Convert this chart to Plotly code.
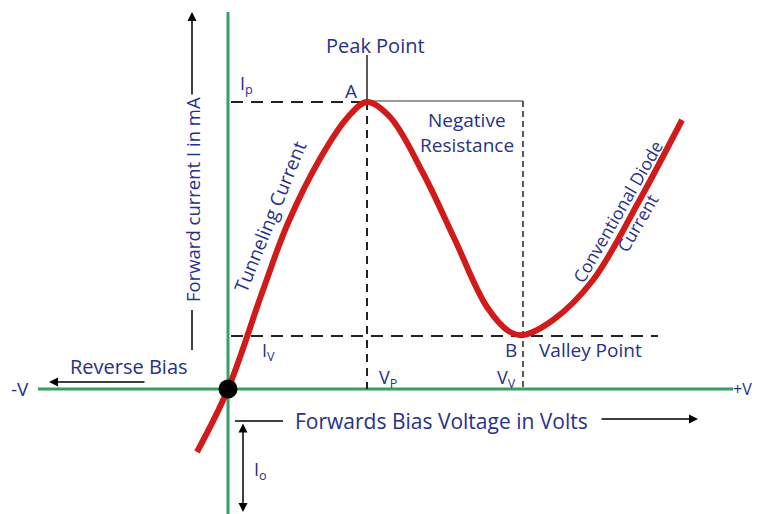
import plotly.graph_objects as go

# ---- data (arbitrary units: volts / mA) ----
bias_v = [-0.31, 0.0, 0.35, 0.60, 0.93, 1.20, 1.39,
          1.62, 1.95, 2.27, 2.59, 2.82, 2.95,
          3.25, 3.65, 4.10, 4.54]
current_ma = [-0.63, 0.0, 0.99, 1.66, 2.32, 2.72, 2.87,
              2.72, 2.16, 1.49, 0.82, 0.57, 0.54,
              0.69, 1.09, 1.86, 2.69]
peak_v, peak_i = 1.39, 2.87
valley_v, valley_i = 2.95, 0.53
axis_x_extent = [-1.90, 5.05]
axis_y_extent = [-1.25, 3.77]

TXT = "#27308a"
FONT = "Open Sans"
GREEN = "#35a062"
RED = "#d11a1a"

def P(px, py):
    return ((px - 228) / 100.0, (389 - py) / 100.0)

fig = go.Figure()

# green axes
fig.add_trace(go.Scatter(x=axis_x_extent, y=[0, 0], mode="lines",
                         line=dict(color=GREEN, width=3), hoverinfo="skip"))
fig.add_trace(go.Scatter(x=[0, 0], y=axis_y_extent, mode="lines",
                         line=dict(color=GREEN, width=3), hoverinfo="skip"))

# reference lines
fig.add_trace(go.Scatter(x=[0.03, peak_v], y=[peak_i, peak_i], mode="lines",
                         line=dict(color="#222", width=2, dash="12px,8px"), hoverinfo="skip"))
fig.add_trace(go.Scatter(x=[peak_v, valley_v], y=[peak_i + 0.01, peak_i + 0.01], mode="lines",
                         line=dict(color="#777", width=1.5), hoverinfo="skip"))
fig.add_trace(go.Scatter(x=[peak_v, peak_v], y=[peak_i, 0], mode="lines",
                         line=dict(color="#222", width=2, dash="8px,6px"), hoverinfo="skip"))
fig.add_trace(go.Scatter(x=[peak_v, peak_v], y=[3.34, peak_i], mode="lines",
                         line=dict(color="#222", width=1.5), hoverinfo="skip"))
fig.add_trace(go.Scatter(x=[valley_v, valley_v], y=[peak_i + 0.01, 0], mode="lines",
                         line=dict(color="#222", width=1.5, dash="6px,4px"), hoverinfo="skip"))
fig.add_trace(go.Scatter(x=[0.03, 4.30], y=[valley_i, valley_i], mode="lines",
                         line=dict(color="#222", width=2, dash="12px,8px"), hoverinfo="skip"))

# characteristic curve
fig.add_trace(go.Scatter(x=bias_v, y=current_ma, mode="lines",
                         line=dict(color=RED, width=6, shape="spline", smoothing=1.0),
                         hoverinfo="skip"))
# origin dot
fig.add_trace(go.Scatter(x=[0], y=[0], mode="markers",
                         marker=dict(color="black", size=19), hoverinfo="skip"))

ann = []

def text(px, py, s, size=20, angle=0, **kw):
    x, y = P(px, py)
    ann.append(dict(x=x, y=y, xref="x", yref="y", text=s, showarrow=False,
                    textangle=angle, font=dict(family=FONT, size=size, color=TXT), **kw))

def arrow(p_head, p_tail, side="end"):
    hx, hy = P(*p_head)
    tx, ty = P(*p_tail)
    ann.append(dict(x=hx, y=hy, ax=tx, ay=ty, xref="x", yref="y", axref="x", ayref="y",
                    text="", showarrow=True, arrowhead=2, arrowsize=1.2,
                    arrowwidth=1.5, arrowcolor="black", arrowside=side,
                    startarrowhead=2, startarrowsize=1.2))

text(375, 45, "Peak Point")
text(246, 84, "I<sub>p</sub>", size=18)
text(351, 91, "A", size=19)
text(467, 120, "Negative", size=19)
text(467, 145, "Resistance", size=19)
text(268, 351, "I<sub>V</sub>", size=18)
text(388, 378, "V<sub>P</sub>", size=18)
text(506, 378, "V<sub>V</sub>", size=18)
text(511, 350, "B", size=19)
text(590, 350, "Valley Point", size=19)
text(129, 366, "Reverse Bias")
text(20, 389, "-V", size=19)
text(754, 389, "+V", size=16, xanchor="right")
text(441, 421, "Forwards Bias Voltage in Volts", size=21)
text(260, 470, "I<sub>o</sub>", size=18)
text(192, 200, "Forward current I in mA", size=18.5, angle=-90)
text(270, 217, "Tunneling Current", size=19, angle=-68)
text(627, 217, "Conventional Diode<br>Current", size=17.5, angle=-60)

# arrows
arrow((192, 12), (192, 96))
arrow((49, 382), (146, 382))
arrow((698, 419), (600, 419))
arrow((243, 512), (243, 422), side="end+start")

fig.update_layout(annotations=ann)

# plain connector lines
fig.add_trace(go.Scatter(x=[P(192, 310)[0], P(192, 350)[0]], y=[P(192, 310)[1], P(192, 350)[1]],
                         mode="lines", line=dict(color="black", width=1.5), hoverinfo="skip"))
fig.add_trace(go.Scatter(x=[P(235, 421)[0], P(283, 421)[0]], y=[P(235, 421)[1], P(283, 421)[1]],
                         mode="lines", line=dict(color="black", width=1.5), hoverinfo="skip"))

# page has an 8px body margin: figure spans reference pixels 8..761 / 8..514
fig.update_layout(
    width=753, height=506,
    margin=dict(l=0, r=0, t=0, b=0),
    paper_bgcolor="white", plot_bgcolor="white",
    showlegend=False,
    xaxis=dict(range=[-2.20, 5.33], visible=False, fixedrange=True),
    yaxis=dict(range=[-1.25, 3.81], visible=False, fixedrange=True),
)

fig.write_html("out.html")
